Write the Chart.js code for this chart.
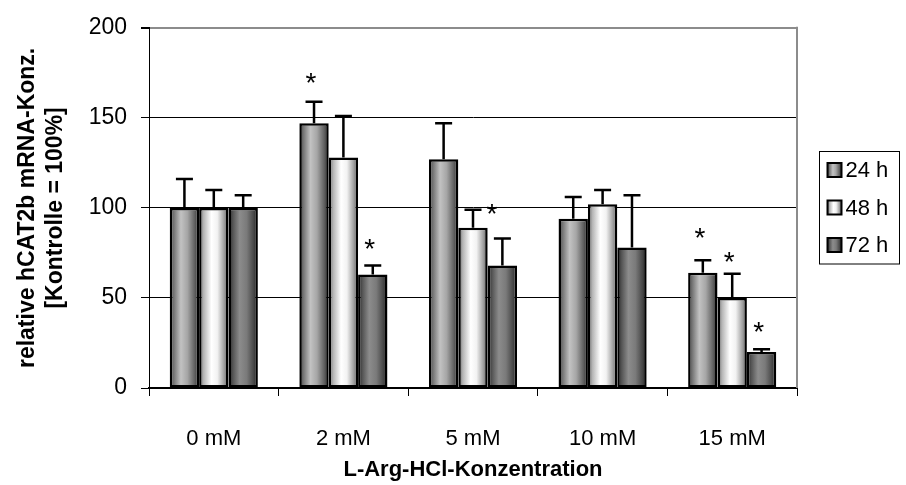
<!DOCTYPE html>
<html>
<head>
<meta charset="utf-8">
<script src="https://cdn.jsdelivr.net/npm/chart.js@4.4.1/dist/chart.umd.min.js"></script>
<style>
  html, body { margin: 0; padding: 0; background: #fff; }
  #wrap { width: 906px; height: 485px; }
</style>
</head>
<body>
<div id="wrap"><canvas id="myChart" width="906" height="485"></canvas></div>
<script>
const categories = ['0 mM', '2 mM', '5 mM', '10 mM', '15 mM'];
const seriesLabels = ['24 h', '48 h', '72 h'];

// mean values (% of control)
const values24 = [100, 147, 127, 94, 64];
const values48 = [100, 128, 89, 102, 50];
const values72 = [100, 63, 68, 78, 20];

// upper error (SD)
const errors24 = [16, 12, 20, 12, 7];
const errors48 = [10, 23, 10, 8, 13.5];
const errors72 = [7, 5, 15, 29, 1.5];

// significance stars (y value of the star, null = none)
const stars24 = [null, 172, null, null, 86];
const stars48 = [null, null, 99.5, null, 73];
const stars72 = [null, 80, null, null, 34];

const yTicks = [0, 50, 100, 150, 200];

const FONT = "Arial, 'Liberation Sans', sans-serif";
const catPct = 0.68;

const gradStops = [
    [[0, '#353535'], [0.12, '#6e6e6e'], [0.38, '#c2c2c2'], [0.6, '#a6a6a6'], [0.85, '#606060'], [1, '#2c2c2c']],
    [[0, '#5e5e5e'], [0.15, '#b4b4b4'], [0.42, '#ffffff'], [0.62, '#f2f2f2'], [0.86, '#9c9c9c'], [1, '#575757']],
    [[0, '#262626'], [0.15, '#555555'], [0.38, '#8c8c8c'], [0.62, '#7a7a7a'], [0.86, '#474747'], [1, '#202020']]
];

function barGradient(stops) {
    return function (c) {
        const chart = c.chart;
        const xs = chart.scales.x;
        if (!xs || !chart.chartArea) return stops[2][1];
        const center = xs.getPixelForValue(c.dataIndex);
        const groupW = (xs.width / categories.length) * catPct;
        const bw = groupW / 3;
        const x0 = center - groupW / 2 + c.datasetIndex * bw;
        const g = chart.ctx.createLinearGradient(x0, 0, x0 + bw, 0);
        stops.forEach(s => g.addColorStop(s[0], s[1]));
        return g;
    };
}

const errorSets = [errors24, errors48, errors72];
const starSets = [stars24, stars48, stars72];

const errorBars = {
    id: 'errorBars',
    afterDatasetsDraw(chart) {
        const ctx = chart.ctx;
        const ys = chart.scales.y;
        ctx.save();
        ctx.strokeStyle = '#000';
        ctx.lineWidth = 2.5;
        chart.data.datasets.forEach((ds, i) => {
            chart.getDatasetMeta(i).data.forEach((bar, j) => {
                const top = ys.getPixelForValue(ds.data[j] + errorSets[i][j]);
                ctx.beginPath();
                ctx.moveTo(bar.x, bar.y);
                ctx.lineTo(bar.x, top);
                ctx.moveTo(bar.x - 8.5, top);
                ctx.lineTo(bar.x + 8.5, top);
                ctx.stroke();
            });
        });
        // stars
        ctx.fillStyle = '#000';
        ctx.font = '28px ' + FONT;
        ctx.textAlign = 'center';
        ctx.textBaseline = 'alphabetic';
        const m = ctx.measureText('*');
        const mid = (m.actualBoundingBoxAscent - m.actualBoundingBoxDescent) / 2;
        chart.data.datasets.forEach((ds, i) => {
            chart.getDatasetMeta(i).data.forEach((bar, j) => {
                const s = starSets[i][j];
                if (s === null) return;
                // the 5 mM / 48 h star sits beside its error cap
                const dx = (i === 1 && j === 2) ? 19 : -3;
                ctx.fillText('*', bar.x + dx, ys.getPixelForValue(s) + mid);
            });
        });
        ctx.restore();
    }
};

const frameAndLegend = {
    id: 'frameAndLegend',
    afterDraw(chart) {
        const ctx = chart.ctx;
        const a = chart.chartArea;
        ctx.save();
        // right frame of plot area
        ctx.strokeStyle = '#8c8c8c';
        ctx.lineWidth = 2;
        ctx.beginPath();
        ctx.moveTo(a.right, a.top - 1);
        ctx.lineTo(a.right, a.bottom);
        ctx.stroke();

        // legend
        const lx = a.right + 22.5, ly = 151.5, lw = 80, lh = 112.5;
        ctx.strokeStyle = '#000';
        ctx.lineWidth = 1;
        ctx.strokeRect(lx, ly, lw, lh);
        ctx.font = '22px ' + FONT;
        ctx.textAlign = 'left';
        ctx.textBaseline = 'middle';
        seriesLabels.forEach((lab, i) => {
            const cy = 170 + i * 37.5;
            const bx = lx + 8, bs = 14;
            const g = ctx.createLinearGradient(bx, 0, bx + bs, 0);
            gradStops[i].forEach(s => g.addColorStop(s[0], s[1]));
            ctx.fillStyle = g;
            ctx.fillRect(bx, cy - bs / 2, bs, bs);
            ctx.strokeStyle = '#000';
            ctx.lineWidth = 2;
            ctx.strokeRect(bx, cy - bs / 2, bs, bs);
            ctx.fillStyle = '#000';
            ctx.fillText(lab, bx + bs + 4, cy + 1);
        });
        ctx.restore();
    }
};

const ctx = document.getElementById('myChart');

new Chart(ctx, {
    type: 'bar',
    data: {
        labels: categories,
        datasets: [
            { label: seriesLabels[0], data: values24, backgroundColor: barGradient(gradStops[0]) },
            { label: seriesLabels[1], data: values48, backgroundColor: barGradient(gradStops[1]) },
            { label: seriesLabels[2], data: values72, backgroundColor: barGradient(gradStops[2]) }
        ].map(d => Object.assign(d, {
            borderColor: '#000',
            borderWidth: 2.5,
            borderSkipped: false,
            categoryPercentage: catPct,
            barPercentage: 1.0
        }))
    },
    options: {
        responsive: false,
        devicePixelRatio: 1,
        animation: false,
        layout: { padding: { top: 22, right: 109, left: 0, bottom: 0 } },
        plugins: {
            legend: { display: false },
            tooltip: { enabled: false }
        },
        scales: {
            x: {
                afterFit: s => { s.height = 97; },
                grid: {
                    offset: true,
                    drawOnChartArea: false,
                    tickLength: 8,
                    color: '#000',
                    lineWidth: 1
                },
                border: { color: '#000', width: 2 },
                ticks: { color: '#000', font: { family: FONT, size: 22 }, padding: 30 },
                title: {
                    display: true,
                    text: 'L-Arg-HCl-Konzentration',
                    color: '#000',
                    font: { family: FONT, size: 22, weight: 'bold' },
                    padding: { top: 0, bottom: 2 }
                }
            },
            y: {
                min: 0,
                max: 200,
                afterFit: s => { s.width = 149; },
                afterBuildTicks: s => { s.ticks = yTicks.map(v => ({ value: v })); },
                grid: {
                    color: c => (c.tick && c.tick.value === 200) ? '#8c8c8c' : '#000',
                    lineWidth: c => (c.tick && c.tick.value === 200) ? 2 : 1,
                    tickColor: '#000',
                    tickLength: 8
                },
                border: { color: '#000', width: 1 },
                ticks: { color: '#000', font: { family: FONT, size: 23 }, padding: 14 },
                title: {
                    display: true,
                    text: ['relative hCAT2b mRNA-Konz.', '[Kontrolle = 100%]'],
                    color: '#000',
                    font: { family: FONT, size: 23, weight: 'bold' },
                    padding: { top: 14, bottom: 0 }
                }
            }
        }
    },
    plugins: [errorBars, frameAndLegend]
});
</script>
</body>
</html>
